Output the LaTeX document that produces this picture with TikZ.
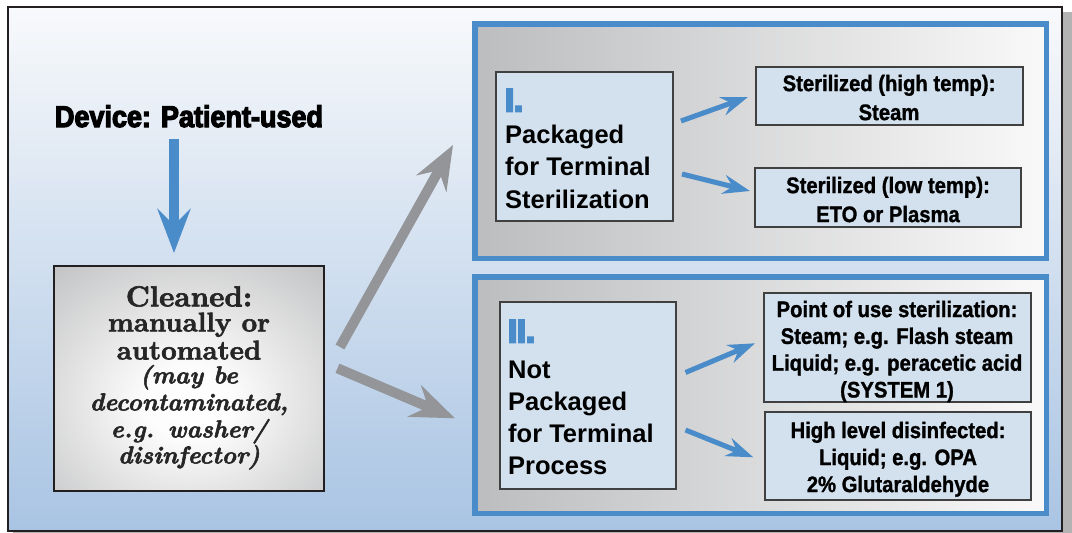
\documentclass[tikz,border=0pt]{standalone}
\usepackage{fontspec}
\usetikzlibrary{arrows.meta}
\newfontfamily\boxfont{Liberation Sans Bold}[FakeStretch=0.9,FakeBold=1.2]
\newfontfamily\devfont{Liberation Sans Bold}[FakeStretch=0.9,FakeBold=4]
\newfontfamily\numfont{Liberation Sans Bold}[FakeBold=7]
\newfontfamily\lsans{Liberation Sans Bold}
\newfontfamily\cleanfont{lmroman10-bold}[Extension=.otf, ItalicFont=lmroman10-bolditalic, FakeBold=2.2]
\definecolor{bgtop}{HTML}{F8F9FB}
\definecolor{bgbot}{HTML}{A9C4E3}
\definecolor{framec}{HTML}{231F20}
\definecolor{shadowgray}{HTML}{B3B3B3}
\definecolor{pblue}{HTML}{4A8BC9}
\definecolor{panL}{HTML}{BCBDBF}
\definecolor{panR}{HTML}{F9F9F9}
\definecolor{boxfill}{HTML}{D3E1EE}
\definecolor{boxline}{HTML}{404040}
\definecolor{cleanout}{HTML}{A8A9AB}
\definecolor{cleanedge}{HTML}{A2A3A5}
\definecolor{garrow}{HTML}{939598}
\pgfdeclareradialshading{cleanshade}{\pgfpoint{0bp}{-6bp}}{color(0bp)=(white); color(8bp)=(white!97!cleanout); color(52bp)=(cleanout); color(100bp)=(cleanedge)}
\begin{document}
\begin{tikzpicture}[x=1pt,y=-1pt,
  panel/.style={left color=panL, right color=panR, draw=pblue, line width=5.5pt, inner sep=0pt},
  sbox/.style={draw=boxline, fill=boxfill, line width=1.3pt, inner sep=0pt},
  stxt/.style={font=\boxfont\fontsize{22.5}{29}\selectfont, align=center, inner sep=0pt, anchor=north},
  stxtb/.style={stxt, font=\boxfont\fontsize{22.5}{26.8}\selectfont},
  bigtxt/.style={font=\lsans\fontsize{25.5}{32.5}\selectfont, align=left, inner sep=0pt, anchor=north west},
  numtxt/.style={font=\numfont\fontsize{32}{32}\selectfont, text=pblue, inner sep=0pt, anchor=north west},
  barrow/.style={draw=pblue, line width=5pt, -{Stealth[length=27pt, width=19pt, inset=9pt]}},
  garr/.style={draw=garrow, line width=10pt, -{Stealth[length=44pt, width=34pt, inset=15pt]}},
  darr/.style={draw=pblue, line width=10pt, -{Stealth[length=44pt, width=33pt, inset=16pt]}}
]
\useasboundingbox (0,0) rectangle (1072,533);
\fill[white] (0,0) rectangle (1072,533);
\fill[shadowgray] (13,12) rectangle (1072,533);
\path[top color=bgtop, bottom color=bgbot, draw=framec, line width=2pt] (8,7) rectangle (1061.5,531);

% panels
\node[panel, minimum width=571.5pt, minimum height=234.5pt] (pI) at (760.5,141) {};
\node[panel, minimum width=571.5pt, minimum height=236.5pt] (pII) at (760.5,395) {};

% left part
\node[font=\devfont\fontsize{30}{30}\selectfont, inner sep=0pt, anchor=base] (dev) at (189,127) {Device: Patient-used};
\node[draw=framec, line width=2pt, shading=cleanshade, minimum width=270pt, minimum height=225pt, inner sep=0pt] (clean) at (189,378.5) {};
\node[font=\cleanfont\fontsize{27}{27}\selectfont, align=center, inner sep=0pt, anchor=north, text=black!85] (cleantxt) at (189,286)
  {{\fontsize{29}{27}\selectfont Cleaned:}\\[-2pt]
   manually or\\[1pt]
   automated\\[-3pt]
   {\itshape\fontsize{24.5}{27}\selectfont (may be}\\[0pt]
   {\itshape\fontsize{24.5}{27}\selectfont decontaminated,}\\
   {\itshape\fontsize{24.5}{27}\selectfont e.g. washer/}\\[-1pt]
   {\itshape\fontsize{24.5}{27}\selectfont disinfector)}};

% panel I boxes
\node[sbox, minimum width=177pt, minimum height=149pt] (bI) at (584.5,146.5) {};
\node[numtxt] (nI) at (505,89) {I.};
\node[bigtxt] (tI) at (505,124.7) {Packaged\\for Terminal\\Sterilization};
\node[sbox, minimum width=267pt, minimum height=58pt] (hi) at (889.5,96) {};
\node[stxt] (hit) at (889,74.6) {Sterilized (high temp):\\Steam};
\node[sbox, minimum width=266pt, minimum height=59pt] (lo) at (888,197.5) {};
\node[stxt] (lot) at (888,176.6) {Sterilized (low temp):\\ETO or Plasma};

% panel II boxes
\node[sbox, minimum width=176pt, minimum height=187pt] (bII) at (588,395.5) {};
\node[numtxt] (nII) at (508,320) {II.};
\node[bigtxt, font=\lsans\fontsize{25.5}{32}\selectfont] (tII) at (508,360.7) {Not\\Packaged\\for Terminal\\Process};
\node[sbox, minimum width=267pt, minimum height=109pt] (pou) at (897.5,347.5) {};
\node[stxtb] (pout) at (897,300.6) {Point of use sterilization:\\Steam; e.g. Flash steam\\Liquid; e.g. peracetic acid\\(SYSTEM 1)};
\node[sbox, minimum width=266pt, minimum height=88pt] (hld) at (898,456) {};
\node[stxtb, font=\boxfont\fontsize{22.5}{27}\selectfont] (hldt) at (898,421.6) {High level disinfected:\\Liquid; e.g. OPA\\2\% Glutaraldehyde};

% arrow end points
\coordinate (d1) at (174,139);
\coordinate (d2) at (174,253);
\coordinate (g1a) at (340,347);
\coordinate (g1b) at (453,145);
\coordinate (g2a) at (337.5,368.3);
\coordinate (g2b) at (455,418.3);
\coordinate (a1a) at (681,121);
\coordinate (a1b) at (748,97);
\coordinate (a2a) at (682,174);
\coordinate (a2b) at (750,191);
\coordinate (a3a) at (685.5,372.5);
\coordinate (a3b) at (755,343.3);
\coordinate (a4a) at (685.5,430);
\coordinate (a4b) at (753.3,457.3);

\draw[darr] (d1) -- (d2);
\draw[garr] (g1a) -- (g1b);
\draw[garr] (g2a) -- (g2b);
\draw[barrow] (a1a) -- (a1b);
\draw[barrow] (a2a) -- (a2b);
\draw[barrow] (a3a) -- (a3b);
\draw[barrow] (a4a) -- (a4b);
\end{tikzpicture}
\end{document}
